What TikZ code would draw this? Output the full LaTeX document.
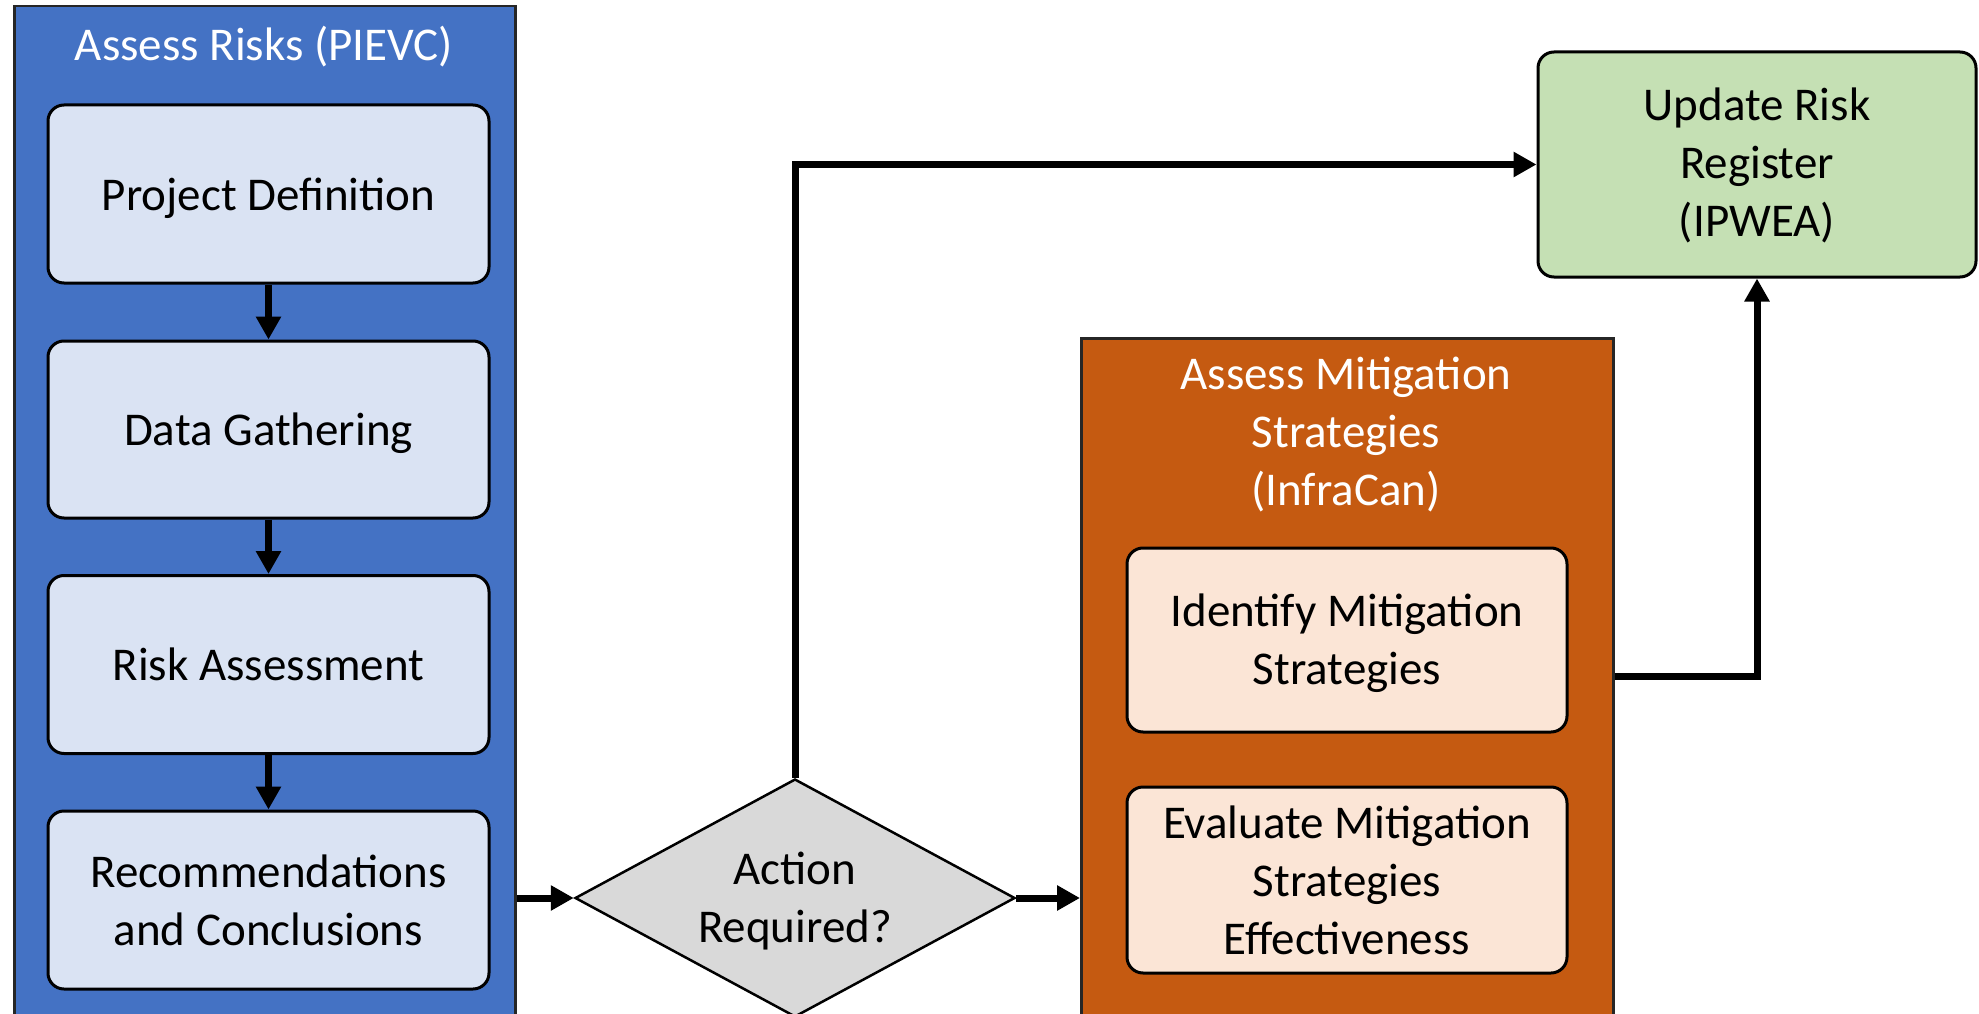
\documentclass[tikz,border=0pt]{standalone}
\usepackage{fontspec}
\setmainfont{Carlito}
\usetikzlibrary{arrows.meta,shapes.geometric,calc}
\definecolor{cblue}{HTML}{4472C4}
\definecolor{lblue}{HTML}{DAE3F3}
\definecolor{corange}{HTML}{C55A11}
\definecolor{lorange}{HTML}{FBE5D6}
\definecolor{cgreen}{HTML}{C5E0B4}
\definecolor{cgray}{HTML}{D9D9D9}
\tikzset{
  container/.style={draw=black!85, line width=2.5pt, anchor=north west, inner sep=0pt},
  stepbox/.style={draw=black, line width=3pt, rounded corners=16pt, align=center, inner sep=0pt, text=black},
  ctitle/.style={text=white, align=center, inner sep=0pt},
  decision/.style={diamond, aspect=1.85, draw=black, line width=2.5pt, fill=cgray, inner sep=0pt, align=center, minimum width=440pt, minimum height=238pt},
  arr/.style={line width=7pt, -{Triangle[length=23pt,width=24pt]}},
}
\begin{document}
\begin{tikzpicture}[x=1pt,y=-1pt,font=\fontsize{47}{58}\selectfont]
\clip (0,0) rectangle (1979,1014);
\fill[white] (0,0) rectangle (1979,1014);
% containers
\node[container, fill=cblue, minimum width=501pt, minimum height=1040pt] (blue) at (13,5) {};
\node[container, fill=corange, minimum width=532pt, minimum height=700pt] (orange) at (1080,337) {};
\node[ctitle] (bluetitle) at (264,47) {Assess Risks (PIEVC)};
\node[ctitle] (orangetitle) at (1346,435) {Assess Mitigation\\Strategies\\(InfraCan)};
% left steps
\node[stepbox, fill=lblue, minimum width=441pt, minimum height=178pt, text depth=0pt] (pd) at (268.5,194) {Project Definition};
\node[stepbox, fill=lblue, minimum width=441pt, minimum height=177pt, text depth=0pt] (dg) at (268.5,429.5) {Data Gathering};
\node[stepbox, fill=lblue, minimum width=441pt, minimum height=178pt] (ra) at (268.5,664.5) {Risk Assessment};
\node[stepbox, fill=lblue, minimum width=441pt, minimum height=178pt] (rc) at (268.5,900) {Recommendations\\and Conclusions};
% orange steps
\node[stepbox, fill=lorange, minimum width=440pt, minimum height=184pt, text depth=2pt] (ims) at (1347,640) {Identify Mitigation\\Strategies};
\node[stepbox, fill=lorange, minimum width=440pt, minimum height=186pt] (ems) at (1347,880) {Evaluate Mitigation\\Strategies\\Effectiveness};
% green
\node[stepbox, fill=cgreen, minimum width=438pt, minimum height=225pt, text depth=4pt] (urr) at (1757,164.5) {Update Risk\\Register\\(IPWEA)};
% diamond
\node[decision, text depth=2pt] (dia) at (795,898) {Action\\Required?};
% connectors
\draw[arr] (pd) -- (dg);
\draw[arr] (dg) -- (ra);
\draw[arr] (ra) -- (rc);
\draw[arr] (blue.east |- dia.west) -- (dia.west);
\draw[arr] (dia.east) -- (dia.east -| orange.west);
\draw[arr] (dia.north) |- (urr.west);
\draw[arr] ([yshift=-36pt]ims.east -| orange.east) -| (urr.south);
\end{tikzpicture}
\end{document}
